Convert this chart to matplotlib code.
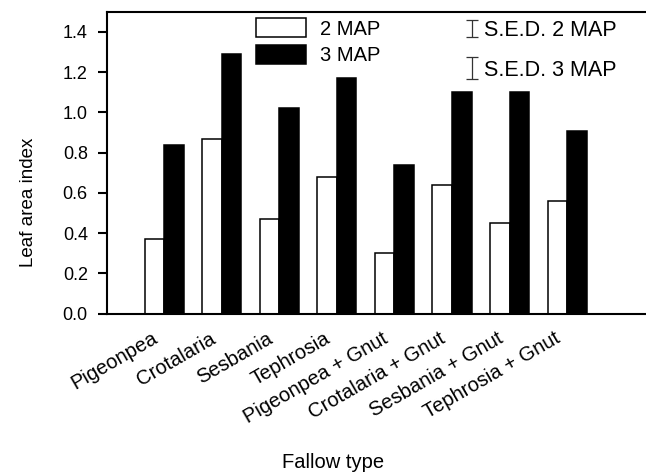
"""Leaf area index by fallow type, 2 and 3 MAP (bar chart, PNG)."""

import matplotlib

matplotlib.use("Agg")
import matplotlib.pyplot as plt
import numpy as np

plt.rcParams["font.family"] = ["Liberation Sans", "DejaVu Sans"]

categories = [
    "Pigeonpea", "Crotalaria", "Sesbania", "Tephrosia",
    "Pigeonpea + Gnut", "Crotalaria + Gnut", "Sesbania + Gnut", "Tephrosia + Gnut",
]
lai_2map = [0.37, 0.87, 0.47, 0.68, 0.30, 0.64, 0.45, 0.56]
lai_3map = [0.84, 1.29, 1.02, 1.17, 0.74, 1.10, 1.10, 0.91]
sed_2map = 0.083
sed_3map = 0.108

x = np.arange(len(categories))
w = 0.34

fig = plt.figure(figsize=(6.46, 4.75), dpi=100)
ax = fig.add_axes([0.165, 0.34, 0.835, 0.635])

b2 = ax.bar(x - w / 2, lai_2map, w, color="white", edgecolor="black", linewidth=1.1, label="2 MAP")
b3 = ax.bar(x + w / 2, lai_3map, w, color="black", edgecolor="black", linewidth=1.1, label="3 MAP")

# S.E.D. markers
sed_x = 5.34
for y, sed, lab in [(1.419, sed_2map, "S.E.D. 2 MAP"), (1.221, sed_3map, "S.E.D. 3 MAP")]:
    ax.errorbar(sed_x, y, yerr=sed / 2, fmt="none", ecolor="#333333", elinewidth=0.9,
                capsize=4, capthick=0.9)
    ax.text(sed_x + 0.22, y - 0.012, lab, fontsize=15.5, va="center", ha="left")

ax.legend(handles=[b2, b3], loc="upper left", bbox_to_anchor=(256 / 646, 1 - 18 / 475),
          bbox_transform=fig.transFigure, frameon=False, fontsize=14.5, handlelength=2.5,
          handleheight=1.1, labelspacing=0.3, handletextpad=0.7, borderpad=0,
          borderaxespad=0)

ax.set_xlim(-1.0, 8.37)
ax.set_ylim(0, 1.5)
ax.set_yticks(np.arange(0, 1.41, 0.2))
ax.set_yticklabels([f"{v:.1f}" for v in np.arange(0, 1.41, 0.2)])
# labels sit a little left of the group centre, as in the original
ax.set_xticks(x - 0.22)
ax.set_xticklabels(categories, rotation=30, ha="right", rotation_mode="anchor")

ax.tick_params(axis="y", direction="out", length=6.5, width=1.5, labelsize=13, pad=7)
ax.tick_params(axis="x", length=0, labelsize=14.5, pad=11)

for s in ["left", "bottom", "top"]:
    ax.spines[s].set_linewidth(1.5)
ax.spines["right"].set_visible(False)

ax.set_ylabel("Leaf area index", fontsize=13.5)
ax.yaxis.set_label_coords(-0.129, 0.37)
ax.set_xlabel("Fallow type", fontsize=14.5)
ax.xaxis.set_label_coords(0.42, -0.462)

fig.savefig("out.png", dpi=100)
